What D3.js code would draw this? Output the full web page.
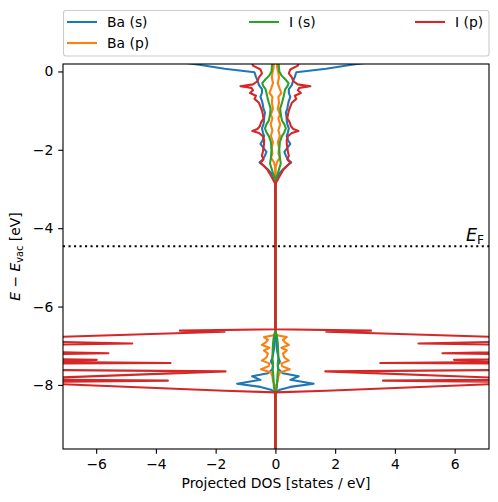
<!DOCTYPE html>
<html><head><meta charset="utf-8">
<script src="https://cdn.jsdelivr.net/npm/d3@7"></script>
<style>
html,body{margin:0;padding:0;background:#fff;}
svg{display:block;font-family:"DejaVu Sans",sans-serif;}
</style></head>
<body>
<svg id="chart" width="498" height="502"></svg>
<script>
// ---- data (energy in eV, projected DOS in states/eV) ----
const seriesNames = ["Ba (s)", "Ba (p)", "I (s)", "I (p)"];
const seriesColors = ["#1f77b4", "#ff7f0e", "#2ca02c", "#d62728"];

const baS_E = [0.6,0.25,0.17,0.07,-0.02,-0.14,-0.27,-0.35,-0.45,-0.55,-0.65,-0.75,-0.85,-0.95,-1.05,-1.15,-1.25,-1.35,-1.45,-1.55,-1.65,-1.75,-1.85,-1.95,-2.05,-2.15,-2.25,-2.32,-2.4,-2.5,-2.6,-2.7,-2.8,-6.7,-6.9,-7.1,-7.3,-7.4,-7.5,-7.6,-7.7,-7.78,-7.87,-7.97,-8.05,-8.12,-8.2,-10];
const baS_dos = [5,3.3,2.55,1.7,0.7,0.65,0.58,0.55,0.45,0.45,0.5,0.45,0.42,0.4,0.35,0.37,0.38,0.4,0.45,0.42,0.38,0.42,0.5,0.4,0.3,0.35,0.42,0.53,0.4,0.25,0.13,0.05,0,0,0.03,0.05,0.1,0.15,0.08,0.1,0.25,0.78,0.5,1.28,0.5,0.15,0,0];

const baP_E = [0.6,0.25,0.1,-0.05,-0.15,-0.3,-0.45,-0.55,-0.65,-0.8,-0.95,-1.1,-1.2,-1.35,-1.5,-1.65,-1.8,-1.95,-2.1,-2.2,-2.3,-2.45,-6.7,-6.74,-6.78,-6.85,-6.92,-6.98,-7.05,-7.12,-7.2,-7.3,-7.38,-7.45,-7.52,-7.6,-7.68,-7.78,-7.9,-8.0,-8.08,-10];
const baP_dos = [0.05,0.05,0.06,0.1,0.12,0.08,0.15,0.2,0.1,0.12,0.08,0.15,0.1,0.16,0.1,0.15,0.08,0.12,0.1,0.15,0.06,0,0,0.1,0.38,0.25,0.33,0.45,0.2,0.38,0.25,0.3,0.45,0.2,0.22,0.48,0.15,0.1,0.08,0.03,0,0];

const iS_E = [0.6,0.25,0.1,0.0,-0.1,-0.2,-0.3,-0.38,-0.45,-0.55,-0.65,-0.8,-0.95,-1.1,-1.25,-1.35,-1.45,-1.55,-1.65,-1.8,-2.0,-2.2,-2.35,-2.5,-2.65,-2.75,-6.6,-6.7,-6.8,-6.95,-7.1,-7.3,-7.45,-7.6,-7.75,-7.9,-8.05,-8.2,-8.25,-10];
const iS_dos = [0.1,0.1,0.12,0.13,0.2,0.33,0.44,0.4,0.33,0.3,0.27,0.22,0.16,0.18,0.22,0.3,0.35,0.3,0.22,0.15,0.13,0.15,0.18,0.12,0.06,0,0,0.03,0.06,0.08,0.09,0.1,0.08,0.09,0.07,0.06,0.05,0.02,0,0];

const iP_E = [0.6,0.25,0.15,0.05,-0.05,-0.15,-0.25,-0.33,-0.38,-0.42,-0.48,-0.55,-0.62,-0.7,-0.8,-0.9,-1.0,-1.1,-1.2,-1.3,-1.4,-1.47,-1.52,-1.57,-1.65,-1.75,-1.85,-1.95,-2.05,-2.15,-2.25,-2.33,-2.4,-2.5,-2.6,-2.7,-2.8,-2.88,-6.58,-6.615,-6.645,-6.85,-6.944,-7.0,-7.1,-7.19,-7.28,-7.36,-7.40,-7.44,-7.48,-7.58,-7.655,-7.86,-7.89,-7.93,-8.15,-8.19,-10];
const iP_dos = [0.9,0.8,0.75,0.5,0.45,0.55,0.6,0.75,1.17,0.8,0.75,0.85,0.65,0.7,0.55,0.5,0.45,0.42,0.4,0.48,0.52,0.6,0.77,0.55,0.42,0.38,0.38,0.4,0.42,0.45,0.4,0.5,0.4,0.27,0.2,0.12,0.05,0,0,3.2,1.7,10.5,4.79,10,12,5.59,12,5.98,9,3.51,14,14,1.67,9,3.6,8.9,1.7,0,0];

const fermiLevel = -4.46;
const xTicks = [-6,-4,-2,0,2,4,6];
const yTicks = [-8,-6,-4,-2,0];
const xLabel = "Projected DOS [states / eV]";

// ---- layout ----
const L = 63, R = 489, T = 64, B = 449;
const FS = 13.9;
const LW = 2.08;
const svg = d3.select("#chart");
const x = d3.scaleLinear().domain([-7.11, 7.15]).range([L, R]);
const y = d3.scaleLinear().domain([-9.635, 0.19]).range([B, T]);

const series = [
  {E: baS_E, d: baS_dos}, {E: baP_E, d: baP_dos},
  {E: iS_E, d: iS_dos}, {E: iP_E, d: iP_dos}
].map((s, i) => ({name: seriesNames[i], color: seriesColors[i],
  pts: s.E.map((e, k) => ({E: e, v: s.d[k]}))}));

svg.append("defs").append("clipPath").attr("id", "clip")
  .append("rect").attr("x", L).attr("y", T).attr("width", R - L).attr("height", B - T);

const plot = svg.append("g").attr("clip-path", "url(#clip)");
series.forEach(s => {
  [1, -1].forEach(sign => {
    const line = d3.line().x(d => x(sign * d.v)).y(d => y(d.E));
    plot.append("path").datum(s.pts).attr("d", line)
      .attr("fill", "none").attr("stroke", s.color).attr("stroke-width", LW)
      .attr("stroke-linejoin", "round").attr("stroke-linecap", "butt");
  });
});

// Fermi level
svg.append("line").attr("x1", L).attr("x2", R).attr("y1", y(fermiLevel)).attr("y2", y(fermiLevel))
  .attr("stroke", "#000").attr("stroke-width", LW).attr("stroke-dasharray", "2.08,3.43");
const ef = svg.append("text").attr("x", 484).attr("y", y(fermiLevel) - 5)
  .attr("text-anchor", "end").attr("font-size", 17.5).attr("fill", "#000");
ef.append("tspan").attr("font-style", "italic").text("E");
ef.append("tspan").attr("font-size", 12.2).attr("dy", 3).text("F");

// axes
const xAxis = svg.append("g").attr("transform", `translate(0,${B})`)
  .call(d3.axisBottom(x).tickValues(xTicks).tickSize(4.86).tickPadding(4.86));
const yAxis = svg.append("g").attr("transform", `translate(${L},0)`)
  .call(d3.axisLeft(y).tickValues(yTicks).tickSize(4.86).tickPadding(4.86));
[xAxis, yAxis].forEach(a => {
  a.select(".domain").remove();
  a.selectAll("line").attr("stroke", "#000").attr("stroke-width", 1.11);
  a.selectAll("text").attr("font-size", FS).attr("fill", "#000")
    .attr("font-family", "DejaVu Sans");
});

svg.append("rect").attr("x", L).attr("y", T).attr("width", R - L).attr("height", B - T)
  .attr("fill", "none").attr("stroke", "#000").attr("stroke-width", 1.11);

svg.append("text").attr("x", (L + R) / 2).attr("y", 488).attr("text-anchor", "middle")
  .attr("font-size", FS).attr("fill", "#000").text(xLabel);

const yl = svg.append("text").attr("transform", `translate(20,${(T + B) / 2}) rotate(-90)`)
  .attr("text-anchor", "middle").attr("font-size", FS).attr("fill", "#000");
yl.append("tspan").attr("font-style", "italic").text("E");
yl.append("tspan").text(" \u2212 ");
yl.append("tspan").attr("font-style", "italic").text("E");
yl.append("tspan").attr("font-size", 9.7).attr("dy", 2.5).text("vac");
yl.append("tspan").attr("dy", -2.5).text(" [eV]");

// legend
const lg = svg.append("g");
lg.append("rect").attr("x", 63.5).attr("y", 10.5).attr("width", 425.5).attr("height", 45.5)
  .attr("rx", 2.5).attr("fill", "#fff").attr("fill-opacity", 0.8)
  .attr("stroke", "#cccccc").attr("stroke-width", 1.11);
const legendPos = [[67, 22], [67, 43], [249, 22], [415, 22]];
series.forEach((s, i) => {
  const [lx, ly] = legendPos[i];
  lg.append("line").attr("x1", lx).attr("x2", lx + 30).attr("y1", ly).attr("y2", ly)
    .attr("stroke", s.color).attr("stroke-width", LW);
  lg.append("text").attr("x", lx + 40).attr("y", ly + 5).attr("font-size", FS)
    .attr("fill", "#000").text(s.name);
});
</script>
</body></html>
